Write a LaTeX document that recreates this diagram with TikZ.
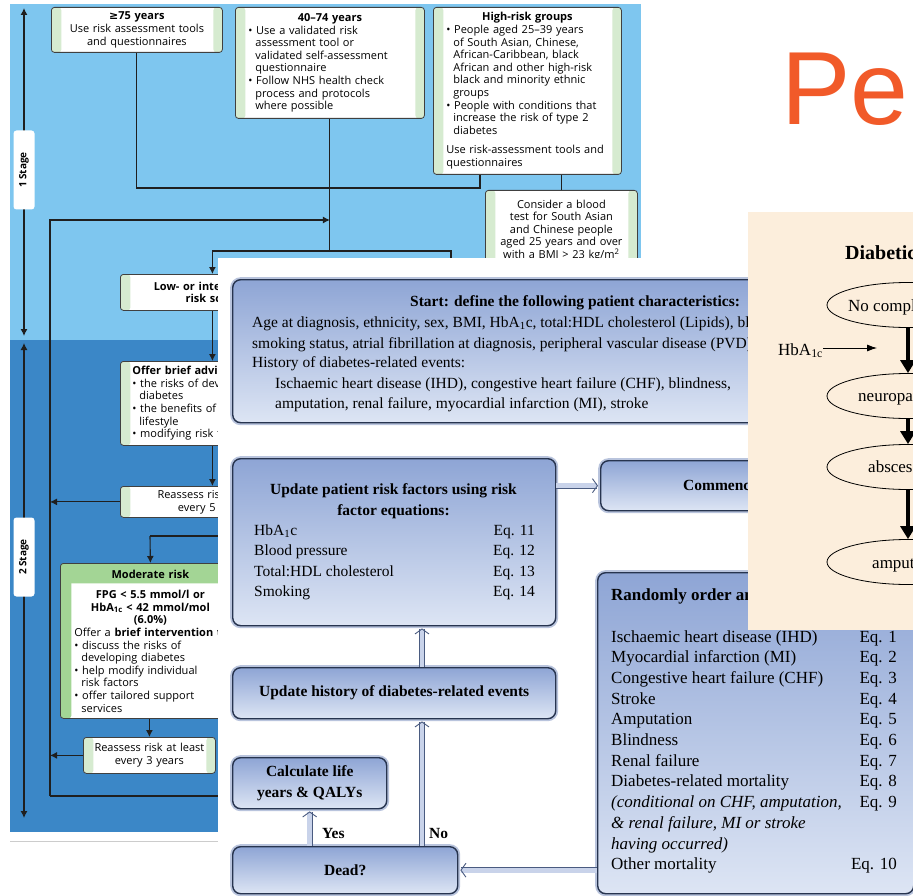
\documentclass[tikz,border=0pt]{standalone}
\usepackage{fontspec}
\setmainfont{Liberation Serif}
\newfontfamily\nicefont{Open Sans}
\newfontfamily\symbolfont{DejaVu Sans}
\newfontfamily\slidefont{Liberation Sans}
\usetikzlibrary{arrows.meta,shapes.geometric}

\definecolor{stageone}{HTML}{7EC6EF}
\definecolor{stagetwo}{HTML}{3B87C7}
\definecolor{nicestrip}{HTML}{D6EBD0}
\definecolor{nicegreen}{HTML}{A3D595}
\definecolor{niceline}{HTML}{404040}
\definecolor{wirecol}{HTML}{1F1F1F}
\definecolor{boxtop}{HTML}{8EA5D5}
\definecolor{boxbot}{HTML}{DDE5F4}
\definecolor{boxline}{HTML}{27344F}
\definecolor{halo}{HTML}{B9C4DD}
\definecolor{pipefill}{HTML}{C9D3EA}
\definecolor{pipeline}{HTML}{4A5B80}
\definecolor{cream}{HTML}{FCEEDC}
\definecolor{slideorange}{HTML}{F15A29}

\tikzset{
	nicetext/.style={font=\nicefont\fontsize{11}{12.6}\selectfont},
	nicebox/.style={nicetext, anchor=north west, draw=niceline, line width=0.8pt, rounded corners=3pt, fill=white, inner ysep=1pt,
		path picture={
			\fill[nicestrip] (path picture bounding box.south west) rectangle ([xshift=10pt]path picture bounding box.north west);
			\fill[nicestrip] ([xshift=-9pt]path picture bounding box.south east) rectangle (path picture bounding box.north east);}},
	modbox/.style={nicetext, anchor=north west, draw=niceline, line width=0.8pt, rounded corners=3pt, fill=white, inner ysep=1pt,
		path picture={
			\fill[nicegreen] ([yshift=-20pt]path picture bounding box.north west) rectangle (path picture bounding box.north east);
			\fill[nicegreen] (path picture bounding box.south west) rectangle ([xshift=11pt]path picture bounding box.north west);
			\fill[nicegreen] ([xshift=-11pt]path picture bounding box.south east) rectangle (path picture bounding box.north east);}},
	stagebox/.style={fill=white, rounded corners=3pt, rotate=90, minimum width=79pt, minimum height=21pt, inner sep=0pt,
		font=\nicefont\bfseries\fontsize{10}{12}\selectfont},
	wire/.style={draw=wirecol, line width=1.1pt},
	wirearrow/.style={wire, -{Latex[length=7pt,width=7pt]}},
	cyclebox/.style={anchor=north west, draw=boxline, line width=1.4pt, rounded corners=8pt, top color=boxtop, bottom color=boxbot,
		preaction={draw=halo, line width=5pt}, inner sep=0pt, font=\fontsize{15.5}{20.5}\selectfont},
	cyctext/.style={inner sep=0pt, font=\fontsize{15.5}{20.5}\selectfont},
	listtext/.style={inner sep=0pt, font=\fontsize{17}{20.7}\selectfont},
	pipe/.style={draw=pipeline, line width=0.9pt, double=pipefill, double distance=4.6pt, shorten >=2pt,
		-{Straight Barb[length=5pt,width=14pt]}},
	state/.style={draw, ellipse, line width=0.8pt, minimum width=162pt, minimum height=45pt},
	heavyarrow/.style={line width=4pt, -{Triangle[length=13pt,width=15pt]}},
}

\begin{document}
\begin{tikzpicture}[x=1pt, y=-1pt]
	\useasboundingbox (0,0) rectangle (913,896);
	\clip (0,0) rectangle (913,896);

	%%%%% NICE PATHWAY %%%%%

	\fill[stageone] (10,4) rectangle (641,340);
	\fill[stagetwo] (10,340) rectangle (641,832);
	\draw[black!20, line width=1pt] (10,841) -- (218,841);

	\coordinate (s1top) at (24,8);
	\coordinate (s1bot) at (24,336);
	\coordinate (s2top) at (24,343);
	\coordinate (s2bot) at (24,818);
	\draw[wire, {Latex[length=7pt,width=7pt]}-{Latex[length=7pt,width=7pt]}] (s1top) -- (s1bot);
	\draw[wire, {Latex[length=7pt,width=7pt]}-{Latex[length=7pt,width=7pt]}] (s2top) -- (s2bot);
	\node (stage1) [stagebox] at (24,170) {1 Stage};
	\node (stage2) [stagebox] at (24,557) {2 Stage};

	\node (b75) [nicebox, text width=151pt, inner xsep=10pt, minimum height=45pt, align=center] at (51,7)
		{\textbf{{\symbolfont ≥}75 years}\\Use risk assessment tools\\and questionnaires};
	\node (b4074) [nicebox, text width=163pt, inner xsep=13pt, minimum height=111pt, align=left] at (235,7)
		{{\centering\bfseries 40–74 years\par}
		\textbullet\ Use a validated risk\\
		\hspace*{7pt}assessment tool or\\
		\hspace*{7pt}\mbox{validated self-assessment}\\
		\hspace*{7pt}questionnaire\\
		\textbullet\ \mbox{Follow NHS health check}\\
		\hspace*{7pt}process and protocols\\
		\hspace*{7pt}where possible};
	\node (bhigh) [nicebox, text width=162pt, inner xsep=13pt, minimum height=167pt, align=left] at (433,7)
		{{\centering\bfseries High-risk groups\par}
		\textbullet\ \mbox{People aged 25–39 years}\\
		\hspace*{7pt}\mbox{of South Asian, Chinese,}\\
		\hspace*{7pt}\mbox{African-Caribbean, black}\\
		\hspace*{7pt}\mbox{African and other high-risk}\\
		\hspace*{7pt}\mbox{black and minority ethnic}\\
		\hspace*{7pt}groups\\
		\textbullet\ \mbox{People with conditions that}\\
		\hspace*{7pt}\mbox{increase the risk of type 2}\\
		\hspace*{7pt}diabetes\\[7pt]
		\mbox{Use risk-assessment tools and}\\
		questionnaires};
	\node (bblood) [nicebox, text width=132pt, inner xsep=10pt, minimum height=80pt, align=center] at (485,190)
		{Consider a blood\\test for South Asian\\and Chinese people\\aged 25 years and over\\with a BMI > 23 kg/m\textsuperscript{2}};
	\node (blow) [nicebox, text width=164pt, inner xsep=10pt, minimum height=36pt, align=center] at (120,274)
		{\bfseries Low- or intermediate\\risk score};
	\node (boffer) [nicebox, text width=160pt, inner xsep=12pt, minimum height=84pt, align=left] at (120,361)
		{\textbf{Offer brief advice on:}\\
		\textbullet\ \mbox{the risks of developing}\\
		\hspace*{7pt}diabetes\\
		\textbullet\ \mbox{the benefits of a healthy}\\
		\hspace*{7pt}lifestyle\\
		\textbullet\ \mbox{modifying risk factors}};
	\node (bre5) [nicebox, text width=164pt, inner xsep=10pt, minimum height=31pt, align=center] at (120,486)
		{Reassess risk at least\\every 5 years};
	\node (bmod) [modbox, text width=152pt, inner xsep=14pt, minimum height=155pt, align=left] at (60,563)
		{{\centering\bfseries Moderate risk\\[8pt]
		FPG < 5.5 mmol/l or\\
		HbA\textsubscript{1c} < 42 mmol/mol\\
		(6.0\%)\par}
		\mbox{Offer a \textbf{brief intervention to:}}\\
		\textbullet\ discuss the risks of\\
		\hspace*{7pt}developing diabetes\\
		\textbullet\ \mbox{help modify individual}\\
		\hspace*{7pt}risk factors\\
		\textbullet\ offer tailored support\\
		\hspace*{7pt}services};
	\node (bre3) [nicebox, text width=112pt, inner xsep=10pt, minimum height=36pt, align=center] at (83,737)
		{Reassess risk at least\\every 3 years};

	\coordinate (loopTop) at (50,220);
	\coordinate (loopBot) at (50,796);
	\coordinate (rowA) at (0,251);
	\coordinate (split) at (b4074.south |- rowA);
	\coordinate (hiddenA) at (451,275);
	\coordinate (hrjoin) at (480,188);
	\coordinate (modIn) at (150,536);

	\draw[wire] (b75.south) |- (hrjoin) -- (hrjoin |- bhigh.south);
	\draw[wire] (b4074.south) -- (split);
	\draw[wirearrow] (split) -| (blow.north);
	\draw[wire] (split) -| (hiddenA);
	\draw[wire] (bhigh.south -| bblood.north) -- (bblood.north);
	\draw[wirearrow] (blow) -- (boffer);
	\draw[wirearrow] (boffer) -- (bre5);
	\draw[wirearrow] (bre5.west) -- (bre5.west -| loopTop);
	\draw[wirearrow] (modIn) -- (bmod.north);
	\draw[wire] (modIn) -- ++(100,0);
	\draw[wirearrow] (bmod.south -| bre3.north) -- (bre3.north);
	\draw[wirearrow] (bre3.west) -- (bre3.west -| loopTop);
	\draw[wirearrow] (loopBot) -- (loopTop) -- (loopTop -| split);
	\draw[wire] (loopBot) -- ++(250,0);

	%%%%% MODEL CYCLE %%%%%

	\fill[white] (218,258) rectangle (913,896);

	\node (start) [cyclebox, minimum width=720pt, minimum height=143pt] at (232,279) {};
	\node (start0) [cyctext, anchor=base west] at (410,306) {\textbf{Start: define the following patient characteristics:}};
	\node (start1) [cyctext, anchor=base west] at (252,327) {Age at diagnosis, ethnicity, sex, BMI, HbA\textsubscript{1}c, total:HDL cholesterol (Lipids), blood pressure,};
	\node (start2) [cyctext, anchor=base west] at (252,348) {smoking status, atrial fibrillation at diagnosis, peripheral vascular disease (PVD),};
	\node (start3) [cyctext, anchor=base west] at (252,367) {History of diabetes-related events:};
	\node (start4) [cyctext, anchor=base west] at (275,388) {Ischaemic heart disease (IHD), congestive heart failure (CHF), blindness,};
	\node (start5) [cyctext, anchor=base west] at (275,408) {amputation, renal failure, myocardial infarction (MI), stroke};

	\node (upd) [cyclebox, minimum width=323pt, minimum height=167pt] at (232,458) {};
	\node (upd0) [cyctext, anchor=base] at (393.5,494) {\textbf{Update patient risk factors using risk}};
	\node (upd1) [cyctext, anchor=base] at (393.5,515) {\textbf{factor equations:}};
	\foreach \fac/\eq [count=\i] in {HbA\textsubscript{1}c/11, Blood pressure/12, Total:HDL cholesterol/13, Smoking/14} {
		\node (fac\i) [cyctext, anchor=base west] at (254,515+20.4*\i) {\fac};
		\node (eq\i) [cyctext, anchor=base east] at (535,515+20.4*\i) {Eq. \eq};
	}

	\node (hist) [cyclebox, minimum width=323pt, minimum height=51pt, font=\bfseries\fontsize{15.5}{20.5}\selectfont] at (232,667)
		{Update history of diabetes-related events};
	\node (calc) [cyclebox, minimum width=154pt, minimum height=51pt, align=center, font=\bfseries\fontsize{15.5}{20.5}\selectfont] at (232,757)
		{Calculate life\\years \& QALYs};
	\node (dead) [cyclebox, minimum width=225pt, minimum height=47pt, font=\bfseries\fontsize{15.5}{20.5}\selectfont] at (232,846) {Dead?};
	\node (commence) [cyclebox, minimum width=320pt, minimum height=50pt] at (600,460) {};
	\node (comtext) [cyctext, anchor=west] at (683,485) {\textbf{Commence}};

	\node (rand) [cyclebox, minimum width=316pt, minimum height=321pt] at (597,572) {};
	\node (randtitle) [listtext, anchor=base west] at (611,600) {\textbf{Randomly order and}};
	\foreach \ev/\eq [count=\i from 0] in {Ischaemic heart disease (IHD)/Eq. 1, Myocardial infarction (MI)/Eq. 2,
		Congestive heart failure (CHF)/Eq. 3, Stroke/Eq. 4, Amputation/Eq. 5, Blindness/Eq. 6, Renal failure/Eq. 7,
		Diabetes-related mortality/Eq. 8, {\itshape (conditional on CHF, amputation,}/Eq. 9,
		{\itshape \& renal failure, MI or stroke}/{}, {\itshape having occurred)}/{}, Other mortality/Eq. 10} {
		\node (ev\i) [listtext, anchor=base west] at (611,642+20.7*\i) {\ev};
		\node (evq\i) [listtext, anchor=base east] at (897,642+20.7*\i) {\eq};
	}

	\coordinate (noline) at (422,0);
	\draw[pipe] (hist.north -| noline) -- (upd.south -| noline);
	\draw[pipe] (dead.north -| noline) -- (hist.south -| noline);
	\draw[pipe] (dead.north -| calc.south) -- (calc.south);
	\draw[pipe] (upd.east |- commence.west) -- (commence.west);
	\draw[pipe] (rand.west |- dead.east) -- (dead.east);
	\node (yes) [cyctext, anchor=base west] at (322,838) {\textbf{Yes}};
	\node (no) [cyctext, anchor=base west] at (429,838) {\textbf{No}};

	%%%%% FOOT PATHWAY %%%%%

	\fill[cream] (748,212) rectangle (913,630);
	\node (dtitle) [anchor=base west, inner sep=0pt, font=\bfseries\fontsize{20}{24}\selectfont] at (845,259) {Diabetic};

	\node (e1) [state] at (908,305) {};
	\node (e2) [state] at (908,396) {};
	\node (e3) [state] at (908,467) {};
	\node (e4) [state] at (908,562) {};
	\node (t1) [listtext, anchor=base west] at (848,311) {No complications};
	\node (t2) [listtext, anchor=base west] at (858,401) {neuropathy};
	\node (t3) [listtext, anchor=base west] at (868,472) {abscess};
	\node (t4) [listtext, anchor=base west] at (872,568) {amputation};
	\draw[heavyarrow] (e1) -- (e2);
	\draw[heavyarrow] (e2) -- (e3);
	\draw[heavyarrow] (e3) -- (e4);

	\node (hba) [listtext, anchor=base west] at (778,355) {HbA\textsubscript{1c}};
	\coordinate (hbaend) at (877,348);
	\draw[line width=0.8pt, -{Latex[length=10pt,width=7pt]}] (hba.east |- hbaend) -- (hbaend);

	\node (slide) [anchor=base west, inner sep=0pt, text=slideorange, font=\slidefont\fontsize{104}{110}\selectfont] at (781,125) {Pe};
\end{tikzpicture}
\end{document}
